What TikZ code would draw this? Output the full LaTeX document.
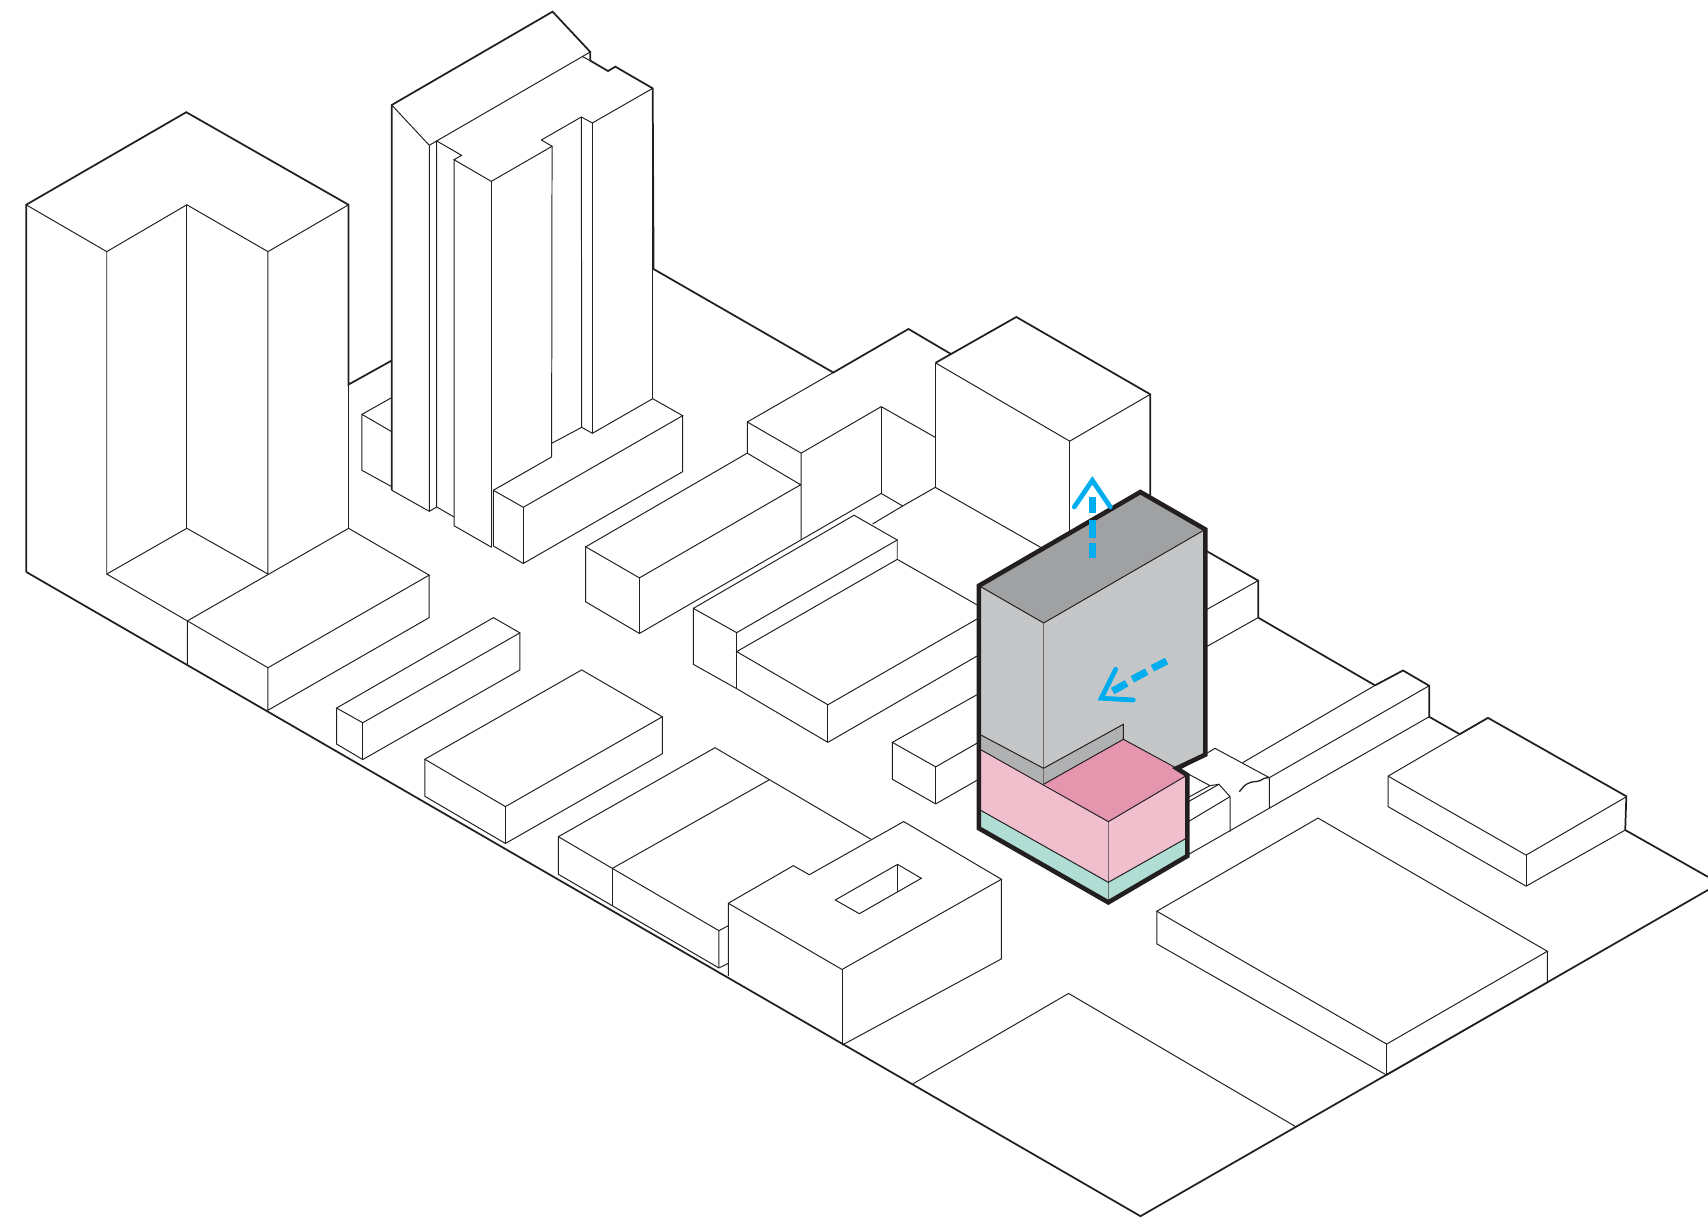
\documentclass[tikz,border=0pt]{standalone}
\definecolor{inkline}{HTML}{231F20}
\definecolor{massface}{HTML}{C5C6C8}
\definecolor{masstop}{HTML}{A0A1A3}
\definecolor{massstrip}{HTML}{B0B1B3}
\definecolor{podium}{HTML}{F0BECC}
\definecolor{podiumtop}{HTML}{E596AE}
\definecolor{basecol}{HTML}{B0DED5}
\definecolor{arrowblue}{HTML}{00AEEF}
\tikzset{
 thin line/.style={draw=inkline,line width=0.45pt,line join=miter},
 outer line/.style={draw=inkline,line width=0.8pt,line join=miter},
 wavy line/.style={draw=inkline,line width=0.6pt},
 bold line/.style={draw=inkline,line width=2.1pt,line join=miter,line cap=round},
 inner mass/.style={draw=inkline!65,line width=0.5pt},
 blue shaft/.style={draw=arrowblue,line width=3.3pt},
 blue head/.style={draw=arrowblue,line width=2.2pt,line cap=round,line join=miter}
}
\begin{document}
\begin{tikzpicture}[x=0.5pt,y=-0.5pt]
\useasboundingbox (0,0) rectangle (1568,1125);
% ---- outer silhouette of the context
\draw[outer line] (24,525) -- (24,188) -- (171,103) -- (320,188) -- (320,353) -- (359.6,331);
\draw[outer line] (359.6,450) -- (359.6,96.4) -- (507.3,10.7) -- (541.9,47.7) -- (541.9,55.7) -- (558.2,65.2) -- (564.9,61.2) -- (599.2,81.1) -- (600,247) -- (765,342) -- (834,302) -- (873,325);
\draw[outer line] (859,333) -- (933,291) -- (1056,362) -- (1056,470);
\draw[outer line] (24,525) -- (1047,1116.5) -- (1568,817);
\draw[outer line] (1568,805) -- (1492,762) -- (1493,731) -- (1366,659) -- (1340,674) -- (1312,658) -- (1312,629.5) -- (1288,615.5) -- (1262.3,629.2);
\draw[outer line] (1155,567) -- (1262,629);
\draw[outer line] (1107,505.5) -- (1155,533) -- (1155,567);
% ---- left tower
\draw[thin line] (24,188) -- (98,231) -- (171.5,188) -- (246,231) -- (320,188);
\draw[thin line] (98,231) -- (98,527) -- (171.5,485) -- (246,527) -- (246,231);
\draw[thin line] (171.5,188) -- (171.5,485);
\draw[thin line] (320,188) -- (320,485);
\draw[thin line] (98,527) -- (172,570) -- (320,485) -- (394,528) -- (246,613) -- (172,570) -- (172,610);
\draw[thin line] (246,613) -- (246,652) -- (394,567) -- (394,528);
% ---- stepped tower
\draw[thin line] (359.6,96.4) -- (394.1,133.4) -- (394.1,469.4);
\draw[thin line] (400.9,465.4) -- (400.9,129.4) -- (541.9,47.7);
\draw[thin line] (394.1,133.4) -- (400.9,129.4) -- (423.8,142.6) -- (416.8,146.6) -- (451,166.5) -- (506.8,134.3) -- (497,128.5) -- (533.7,107.4) -- (543.8,112.9) -- (599.2,81.1);
\draw[thin line] (534.9,52) -- (541.9,55.7);
\draw[thin line] (416.8,146.6) -- (416.8,482.6) -- (451.4,502.5);
\draw[thin line] (451,166.5) -- (451,502.5);
\draw[thin line] (506.8,134.3) -- (506.4,419.5);
\draw[thin line] (533.7,107.4) -- (534,392.3);
\draw[thin line] (543.8,112.9) -- (543.8,397.8);
\draw[thin line] (599.2,81.1) -- (599.2,366);
\draw[thin line] (359.6,450) -- (394.1,469.4) -- (400.9,465.4) -- (416.8,474.6);
\draw[thin line] (332.3,380.4) -- (359.6,365);
\draw[thin line] (359.6,396.3) -- (332.3,380.4) -- (332.3,431.8) -- (359.6,446.8);
\draw[thin line] (452.9,501.2) -- (452.9,450.1) -- (480.4,465.7) -- (626.7,381.6) -- (599.2,366) -- (543.8,397.8) -- (534,392.3) -- (506.4,407);
\draw[thin line] (452.9,450.1) -- (506.4,419.5);
\draw[thin line] (452.9,501.2) -- (480.4,517.3) -- (626.7,433) -- (626.7,381.6);
\draw[thin line] (480.4,465.7) -- (480.4,517.3);
% ---- middle row
\draw[thin line] (686,416) -- (537.7,502) -- (587,530.5) -- (735,445) -- (686,416) -- (686,387.4) -- (735.5,416) -- (735.5,495.7);
\draw[thin line] (686,387.4) -- (765,342);
\draw[thin line] (537.7,502) -- (537.7,552.5) -- (587,581.5) -- (809,453) -- (828.7,464.5) -- (858.6,447.4) -- (958,504);
\draw[thin line] (587,530.5) -- (587,581.5);
\draw[thin line] (735.5,416) -- (809,373.3) -- (858.6,401.5);
\draw[thin line] (809,373.3) -- (809,453);
\draw[thin line] (858.6,333) -- (858.6,447.4);
\draw[thin line] (858.6,333) -- (982,405) -- (1056,362);
\draw[thin line] (982,405) -- (982,500);
\draw[thin line] (828.7,464.5) -- (801,481);
\draw[thin line] (636.5,558.5) -- (784,473) -- (823.7,495.7) -- (676.3,580.8) -- (636.5,558.5) -- (636.5,609.9) -- (676.3,632.2) -- (760,681.5) -- (900,600.5);
\draw[thin line] (676.3,580.8) -- (676.3,632.2);
\draw[thin line] (823.7,495.7) -- (823.7,513.5) -- (676.3,598.2) -- (760,647) -- (900,566.5);
\draw[thin line] (823.7,513.5) -- (900,557);
\draw[thin line] (760,647) -- (760,681.5);
% ---- low front blocks
\draw[thin line] (309,650) -- (453,567) -- (477.3,581) -- (333,663.5) -- cycle;
\draw[thin line] (309,650) -- (309,683) -- (333,697.3) -- (477.3,615) -- (477.3,581);
\draw[thin line] (333,663.5) -- (333,697.3);
\draw[thin line] (390,697) -- (534,615) -- (608,658) -- (464,740.5) -- cycle;
\draw[thin line] (390,697) -- (390,731) -- (464,774.3) -- (608,692) -- (608,658);
\draw[thin line] (464,740.5) -- (464,774.3);
\draw[thin line] (900,636) -- (819.2,681.5) -- (859,704) -- (900,680.5);
\draw[thin line] (819.2,681.5) -- (819.2,715.4) -- (859,738) -- (900,714.5);
\draw[thin line] (859,704) -- (859,738);
% ---- corner group
\draw[thin line] (512.6,802.6) -- (512.6,768.1) -- (656.4,686.4) -- (799.6,770.5);
\draw[thin line] (512.6,768.1) -- (562.1,797.2) -- (706,716);
\draw[thin line] (562.1,797.2) -- (562.1,831.4);
\draw[thin line] (562.1,797.2) -- (660,854.4) -- (660,888.6);
\draw[thin line] (512.6,802.6) -- (660,888.6) -- (668.6,884.4);
\draw[thin line] (660,854.4) -- (668.6,849.8);
\draw[thin line] (668.6,896) -- (668.6,829.2) -- (728.3,794.7) -- (743,803) -- (829.6,754.2) -- (919.3,807.2) -- (773,890) -- (668.6,829.2);
\draw[thin line] (919.3,807.2) -- (919.3,880.3) -- (773,959.5);
\draw[thin line] (773,890) -- (773,959.5);
\draw[thin line] (766.8,826.2) -- (824,793.5) -- (845.8,806.3) -- (788.9,838.8) -- cycle;
\draw[thin line] (824,793.5) -- (824,818.9);
% ---- right side
\draw[thin line] (1274.3,712.5) -- (1366,659);
\draw[thin line] (1274.3,712.5) -- (1401,785) -- (1493,731.5);
\draw[thin line] (1274.3,712.5) -- (1274.3,740.5) -- (1401,813.5) -- (1492,762);
\draw[thin line] (1401,785) -- (1401,813.5);
\draw[thin line] (1062,836.5) -- (1210,751) -- (1420.5,873.3) -- (1273,958.5) -- cycle;
\draw[thin line] (1062,836.5) -- (1062,866.5) -- (1273,987) -- (1420.5,902) -- (1420.5,873.3);
\draw[thin line] (1273,958.5) -- (1273,987);
\draw[thin line] (838,995) -- (981,912) -- (1189,1034);
% ---- behind the mass, right
\draw[thin line] (1107,560) -- (1155,533);
\draw[thin line] (1107,594) -- (1155,567);
\draw[thin line] (1084.8,705.3) -- (1115.4,687) -- (1165.3,713.9) -- (1165.3,742);
\draw[thin line] (1140.8,700.1) -- (1262.3,629.2);
\draw[thin line] (1165.3,713.9) -- (1312.1,629.5);
\draw[thin line] (1090,785) -- (1312,658);
\draw[thin line] (1090.9,710.6) -- (1110.8,721.2) -- (1090.9,732);
\draw[thin line] (1090.9,736) -- (1119,720) -- (1129.2,731.3) -- (1129.2,763.5);
\draw[thin line] (1110.8,721.2) -- (1119,720);
\draw[thin line] (1090.9,754.3) -- (1129.2,731.3);
\draw[wavy line] (1137.7,726.8) .. controls (1141,723) and (1143,720) .. (1146,719.1) .. controls (1150,717) and (1153,718) .. (1156.7,716.7) .. controls (1159,715) and (1161,714) .. (1165.3,713.9);
% ---- massing: filled faces
\fill[masstop] (898.7,537.7) -- (1046.9,451.7) -- (1106.5,486) -- (958.1,571.9) -- cycle;
\fill[massface] (898.7,537.7) -- (958.1,571.9) -- (1106.5,486) -- (1106.5,692.8) -- (1080.2,705.3) -- (1031.3,678.7) -- (958,720) -- (898.7,687.3) -- cycle;
\fill[massstrip] (898.7,673.8) -- (958,705.3) -- (1031.3,664.9) -- (1031.3,678.7) -- (958,720) -- (898.7,687.3) -- cycle;
\fill[podiumtop] (958,720) -- (1031.3,678.7) -- (1090,711.5) -- (1017.5,754.3) -- cycle;
\fill[podium] (898.7,687.3) -- (958,720) -- (1017.5,754.3) -- (1090,711.5) -- (1090,769) -- (1017.5,810) -- (898.7,743) -- cycle;
\fill[basecol] (898.7,743) -- (1017.5,810) -- (1090,769) -- (1090,785.8) -- (1017.5,828.4) -- (898.7,760.4) -- cycle;
% ---- massing: edges
\draw[inner mass] (958.1,571.9) -- (958.1,720);
\draw[inner mass] (1017.5,754.3) -- (1017.5,828.4);
\draw[thin line] (898.7,537.7) -- (958.1,571.9) -- (1106.5,486);
\draw[thin line] (898.7,673.8) -- (958,705.3) -- (1031.3,664.9) -- (1031.3,678.7);
\draw[thin line] (898.7,687.3) -- (1017.5,754.3) -- (1090,711.5);
\draw[thin line] (958,720) -- (1031.3,678.7) -- (1080.2,705.3);
\draw[thin line] (898.7,743) -- (1017.5,810) -- (1090,769);
\draw[bold line] (898.7,537.7) -- (1046.9,451.7) -- (1106.5,486) -- (1106.5,692.8) -- (1080.2,705.3) -- (1090,711.5) -- (1090,785.8) -- (1017.5,828.4) -- (898.7,760.4) -- cycle;
% ---- arrows
\draw[blue shaft] (1002.8,456.6) -- (1002.8,470.6);
\draw[blue shaft] (1002.8,477.4) -- (1002.8,494);
\draw[blue shaft] (1002.8,498.8) -- (1002.8,512.3);
\draw[blue head] (986.2,465.4) -- (1002.8,441) -- (1019.3,465.4);
\draw[blue shaft] (1021.5,634.4) -- (1034.3,627.3);
\draw[blue shaft] (1039.5,623.6) -- (1052.7,616.6);
\draw[blue shaft] (1057.9,613.5) -- (1071,606.8);
\draw[blue head] (1024.2,614.5) -- (1011,641) -- (1040.4,642.6);
\end{tikzpicture}
\end{document}
